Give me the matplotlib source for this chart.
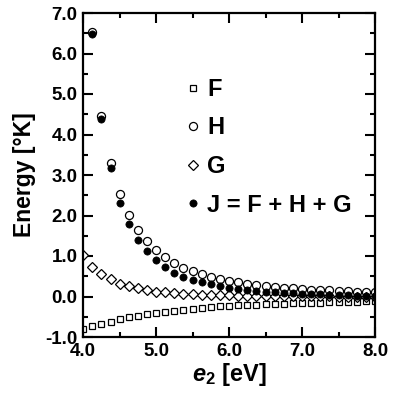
import numpy as np
import matplotlib
matplotlib.use('Agg')
import matplotlib.pyplot as plt
from matplotlib.ticker import MultipleLocator, FormatStrFormatter

plt.rcParams['font.family'] = ['Liberation Sans', 'DejaVu Sans']
plt.rcParams['font.weight'] = 'bold'
plt.rcParams['mathtext.fontset'] = 'custom'
plt.rcParams['mathtext.it'] = 'Liberation Sans:italic:bold'
plt.rcParams['mathtext.rm'] = 'Liberation Sans:bold'

# photon energy e2 [eV], step 0.125
e2_all = [4.0, 4.125, 4.25, 4.375, 4.5, 4.625, 4.75, 4.875, 5.0, 5.125, 5.25,
          5.375, 5.5, 5.625, 5.75, 5.875, 6.0, 6.125, 6.25, 6.375, 6.5, 6.625,
          6.75, 6.875, 7.0, 7.125, 7.25, 7.375, 7.5, 7.625, 7.75, 7.875, 8.0]
e2_hj = e2_all[1:]  # first H / J point lies above the plot

F = [-0.81, -0.73, -0.68, -0.62, -0.56, -0.51, -0.48, -0.44, -0.415, -0.39,
     -0.36, -0.33, -0.30, -0.28, -0.26, -0.245, -0.23, -0.22, -0.21, -0.20,
     -0.19, -0.18, -0.175, -0.165, -0.16, -0.155, -0.15, -0.145, -0.14, -0.13,
     -0.125, -0.12, -0.11]
G = [1.02, 0.74, 0.55, 0.43, 0.31, 0.25, 0.20, 0.15, 0.12, 0.10, 0.08, 0.06,
     0.05, 0.04, 0.04, 0.03, 0.03, 0.02, 0.02, 0.02, 0.02, 0.01, 0.01, 0.01,
     0.01, 0.01, 0.01, 0.01, 0.0, 0.0, 0.0, 0.0, 0.0]
H = [6.52, 4.45, 3.30, 2.54, 2.01, 1.64, 1.36, 1.15, 0.97, 0.83, 0.71, 0.62,
     0.55, 0.49, 0.43, 0.39, 0.35, 0.32, 0.29, 0.26, 0.24, 0.22, 0.20, 0.19,
     0.17, 0.16, 0.15, 0.14, 0.13, 0.12, 0.11, 0.10]
J = [6.48, 4.38, 3.17, 2.32, 1.79, 1.40, 1.12, 0.90, 0.72, 0.59, 0.49, 0.41,
     0.35, 0.30, 0.26, 0.21, 0.18, 0.16, 0.14, 0.12, 0.10, 0.09, 0.08, 0.07,
     0.06, 0.05, 0.04, 0.04, 0.03, 0.02, 0.02, 0.01]

fig = plt.figure(figsize=(3.96, 4.0), dpi=100)
ax = fig.add_axes([0.21, 0.1575, 0.737, 0.81])

ax.plot(e2_all, F, 's', ms=5, mfc='white', mec='black', mew=0.9, label='F')
ax.plot(e2_hj, H, 'o', ms=5.8, mfc='white', mec='black', mew=0.9, label='H')
ax.plot(e2_all, G, 'D', ms=4.6, mfc='white', mec='black', mew=0.9, label='G')
ax.plot(e2_hj, J, 'o', ms=5.2, mfc='black', mec='black', mew=0.5, label='J = F + H + G')

ax.set_xlim(4.0, 8.0)
ax.set_ylim(-1.0, 7.0)
ax.xaxis.set_major_locator(MultipleLocator(1.0))
ax.xaxis.set_minor_locator(MultipleLocator(0.5))
ax.yaxis.set_major_locator(MultipleLocator(1.0))
ax.yaxis.set_minor_locator(MultipleLocator(0.5))
ax.xaxis.set_major_formatter(FormatStrFormatter('%.1f'))
ax.yaxis.set_major_formatter(FormatStrFormatter('%.1f'))
ax.tick_params(which='both', direction='in', top=True, right=True, width=1.5)
ax.tick_params(which='major', length=7, labelsize=13.5, pad=4)
ax.tick_params(which='minor', length=3.5)
for s in ax.spines.values():
    s.set_linewidth(1.6)

ax.set_xlabel(r'$e_{\mathit{2}}$ [eV]', fontsize=17, fontweight='bold', labelpad=1)
ax.set_ylabel('Energy [°K]', fontsize=16.5, fontweight='bold', labelpad=7)

ax.legend(loc='upper left', bbox_to_anchor=(0.353, 0.80), frameon=False,
          fontsize=17, handlelength=0.6, handletextpad=0.3, labelspacing=0.66,
          borderpad=0, borderaxespad=0)

fig.savefig('out.png', dpi=100)
